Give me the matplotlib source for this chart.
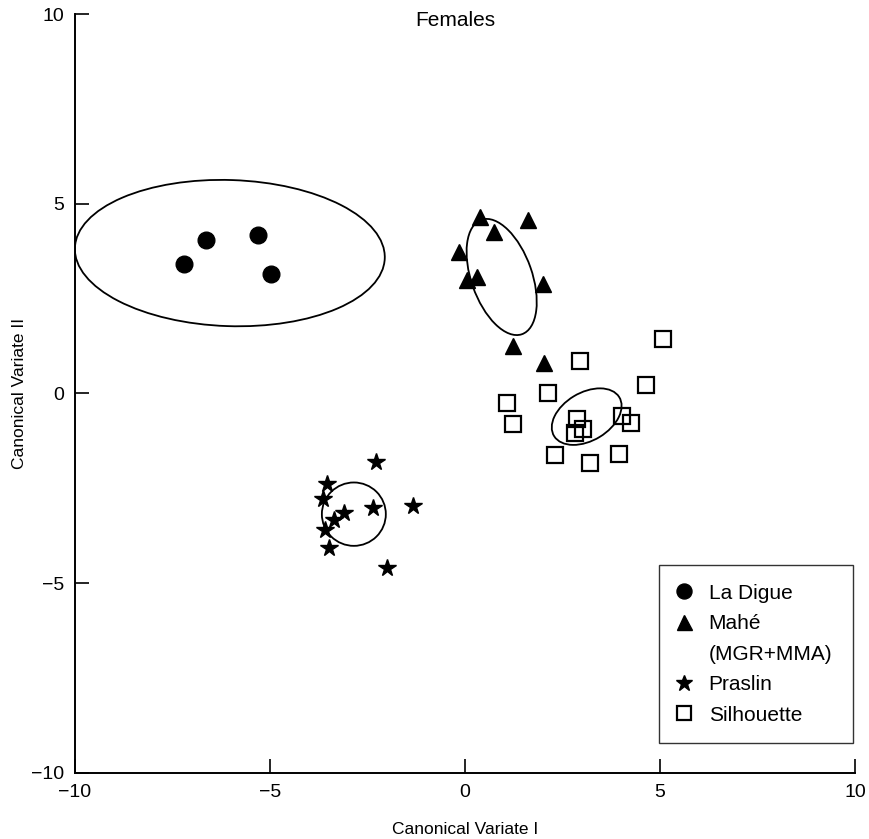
import matplotlib
matplotlib.use("Agg")
import matplotlib.pyplot as plt
from matplotlib.patches import Ellipse
from matplotlib.lines import Line2D

plt.rcParams['font.family'] = ['Liberation Sans', 'DejaVu Sans']

# Data
ladigue_x = [-6.65, -5.30, -7.20, -4.97]
ladigue_y = [4.04, 4.18, 3.40, 3.14]

mahe_x = [0.38, 1.62, 0.75, -0.15, 0.06, 0.32, 1.99, 1.24, 2.03]
mahe_y = [4.66, 4.57, 4.26, 3.74, 2.99, 3.08, 2.89, 1.26, 0.81]

praslin_x = [-2.28, -3.53, -3.65, -3.10, -3.36, -2.37, -1.33, -3.59, -3.49, -1.99]
praslin_y = [-1.81, -2.38, -2.78, -3.14, -3.33, -3.01, -2.96, -3.60, -4.06, -4.61]

silh_x = [5.07, 2.95, 4.64, 2.14, 1.08, 1.24, 2.88, 3.02, 2.82, 4.03, 4.26, 2.31, 3.21, 3.95]
silh_y = [1.44, 0.86, 0.22, 0.02, -0.24, -0.80, -0.68, -0.94, -1.05, -0.58, -0.79, -1.62, -1.82, -1.60]

# ellipses: (center x, center y, width, height, angle)
ell_ladigue = (-6.03, 3.70, 7.95, 3.85, -2)
ell_mahe = (0.94, 3.07, 3.19, 1.56, 108.8)
ell_praslin = (-2.85, -3.18, 1.64, 1.67, 0)
ell_silh = (3.12, -0.61, 1.96, 1.26, 32)

labels = ["La Digue", "Mahé", "(MGR+MMA)", "Praslin", "Silhouette"]
ticks = [-10, -5, 0, 5, 10]

fig = plt.figure(figsize=(8.69, 8.39), dpi=100)
ax = fig.add_axes([0.0863, 0.0787, 0.8976, 0.9046])

h1, = ax.plot(ladigue_x, ladigue_y, 'o', color='black', ms=12, ls='none')
h2, = ax.plot(mahe_x, mahe_y, '^', color='black', ms=12, ls='none')
h3, = ax.plot(praslin_x, praslin_y, '*', color='black', ms=13, ls='none')
h4, = ax.plot(silh_x, silh_y, 's', mfc='none', mec='black', mew=1.6, ms=11, ls='none')
blank = Line2D([], [], ls='none', marker='none')

for (cx, cy, w, h, a) in [ell_ladigue, ell_mahe, ell_praslin, ell_silh]:
    ax.add_patch(Ellipse((cx, cy), w, h, angle=a, fill=False, ec='black', lw=1.3))

ax.set_xlim(-10, 10)
ax.set_ylim(-10, 10)
ax.set_xticks(ticks)
ax.set_yticks(ticks)
ax.set_xticklabels([str(t).replace('-', '\u2212') for t in ticks])
ax.set_yticklabels([str(t).replace('-', '\u2212') for t in ticks])
ax.tick_params(direction='in', length=10, width=1.2, labelsize=14, pad=8)
for s in ['top', 'right']:
    ax.spines[s].set_visible(False)
for s in ['left', 'bottom']:
    ax.spines[s].set_linewidth(1.4)

ax.set_xlabel("Canonical Variate I", fontsize=12.5)
ax.set_ylabel("Canonical Variate II", fontsize=12.5)
ax.xaxis.set_label_coords(0.5, -0.064)
ax.yaxis.set_label_coords(-0.062, 0.5)
ax.text(-0.25, 9.84, "Females", ha='center', va='center', fontsize=15)

leg = ax.legend([h1, h2, blank, h3, h4], labels,
                loc='upper left', bbox_to_anchor=(0.749, 0.274, 0.248, 0.0),
                mode='expand', borderaxespad=0, fontsize=15, frameon=True,
                fancybox=False, edgecolor='black', handlelength=0.55,
                handletextpad=0.92, borderpad=0.9, labelspacing=0.55,
                markerscale=0.9)
leg.get_frame().set_linewidth(1.0)

fig.savefig("out.png", dpi=100)
